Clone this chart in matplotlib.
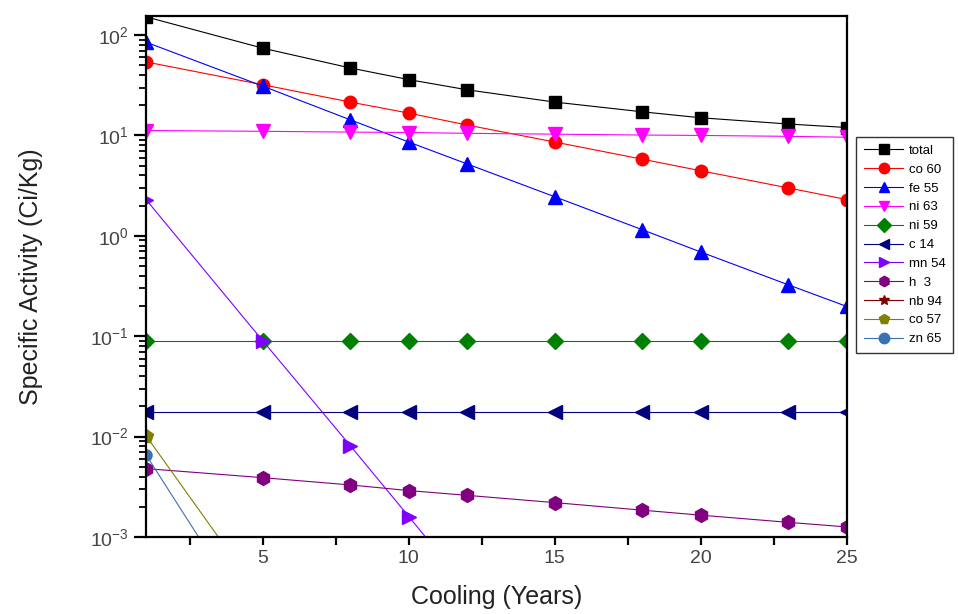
import matplotlib
matplotlib.use("Agg")
import matplotlib.pyplot as plt
from matplotlib.ticker import LogLocator, MultipleLocator, NullFormatter

plt.rcParams['font.family'] = ['Liberation Sans', 'DejaVu Sans']

years = [1, 5, 8, 10, 12, 15, 18, 20, 23, 25]

total = [152, 74, 47, 36, 28.5, 21.5, 17.2, 15.0, 13.0, 12.0]
co60 = [54, 32, 21.5, 16.7, 12.7, 8.6, 5.8, 4.45, 3.0, 2.3]
fe55 = [85, 31, 14.3, 8.6, 5.2, 2.45, 1.15, 0.69, 0.325, 0.198]
ni63 = [11.2, 11.0, 10.8, 10.7, 10.5, 10.3, 10.1, 10.0, 9.8, 9.6]
ni59 = [0.09] * 10
c14 = [0.0175] * 10
h3 = [0.0048, 0.0039, 0.0033, 0.0029, 0.0026, 0.0022, 0.00185, 0.00165, 0.0014, 0.00126]
nb94 = [0.0004] * 10

# short-lived isotopes drop off the chart quickly
mn54_x = [1, 5, 8, 10, 12]
mn54 = [2.3, 0.09, 0.0081, 0.0016, 0.00031]
co57_x = [1, 5]
co57 = [0.0102, 0.00024]
zn65_x = [1, 5]
zn65 = [0.0066, 0.0001]

series = [
    ("total", years, total, "black", "s", 9),
    ("co 60", years, co60, "red", "o", 9),
    ("fe 55", years, fe55, "blue", "^", 10),
    ("ni 63", years, ni63, "#ff00ff", "v", 10),
    ("ni 59", years, ni59, "#008000", "D", 8),
    ("c 14", years, c14, "#000080", "<", 10),
    ("mn 54", mn54_x, mn54, "#8000ff", ">", 10),
    ("h  3", years, h3, "#800080", "h", 10),
    ("nb 94", years, nb94, "#800000", "*", 12),
    ("co 57", co57_x, co57, "#808000", "p", 10),
    ("zn 65", zn65_x, zn65, "#3a72b0", "o", 8),
]

fig = plt.figure(figsize=(9.58, 6.14), dpi=100)
ax = fig.add_axes([0.1524, 0.1254, 0.7315, 0.8486])

for name, xs, ys, col, mk, ms in series:
    ax.plot(xs, ys, color=col, lw=0.8, marker=mk, ms=ms, mec=col, mfc=col,
            label=name)

ax.set_yscale("log")
ax.set_xlim(1, 25)
ax.set_ylim(1e-3, 155)
ax.xaxis.set_major_locator(MultipleLocator(5))
ax.xaxis.set_minor_locator(MultipleLocator(2.5))
ax.yaxis.set_major_locator(LogLocator(base=10, numticks=10))
ax.yaxis.set_minor_locator(LogLocator(base=10, subs=range(2, 10), numticks=20))
ax.yaxis.set_minor_formatter(NullFormatter())

for s in ax.spines.values():
    s.set_linewidth(1.6)

ax.tick_params(axis="y", which="major", direction="out", length=9, width=1.6,
               labelsize=14, labelcolor="#444444", right=False)
ax.tick_params(axis="y", which="minor", direction="out", length=5, width=1.3,
               right=False)
ax.tick_params(axis="x", which="both", direction="out", length=6, width=1.6,
               labelsize=14, labelcolor="#444444", top=False)

ax.set_xlabel("Cooling (Years)", fontsize=18, color="#222222", labelpad=13)
ax.set_ylabel("Specific Activity (Ci/Kg)", fontsize=18, color="#222222", labelpad=34)

leg = ax.legend(loc="upper left", bbox_to_anchor=(1.013, 0.768), fontsize=9.5,
                frameon=True, fancybox=False, edgecolor="black", borderpad=0.6,
                labelspacing=0.5, handlelength=3.0, handletextpad=0.4,
                borderaxespad=0)
leg.get_frame().set_linewidth(1.0)
for h in leg.legend_handles:
    h.set_markersize(7.5)

fig.savefig("out.png", dpi=100)
